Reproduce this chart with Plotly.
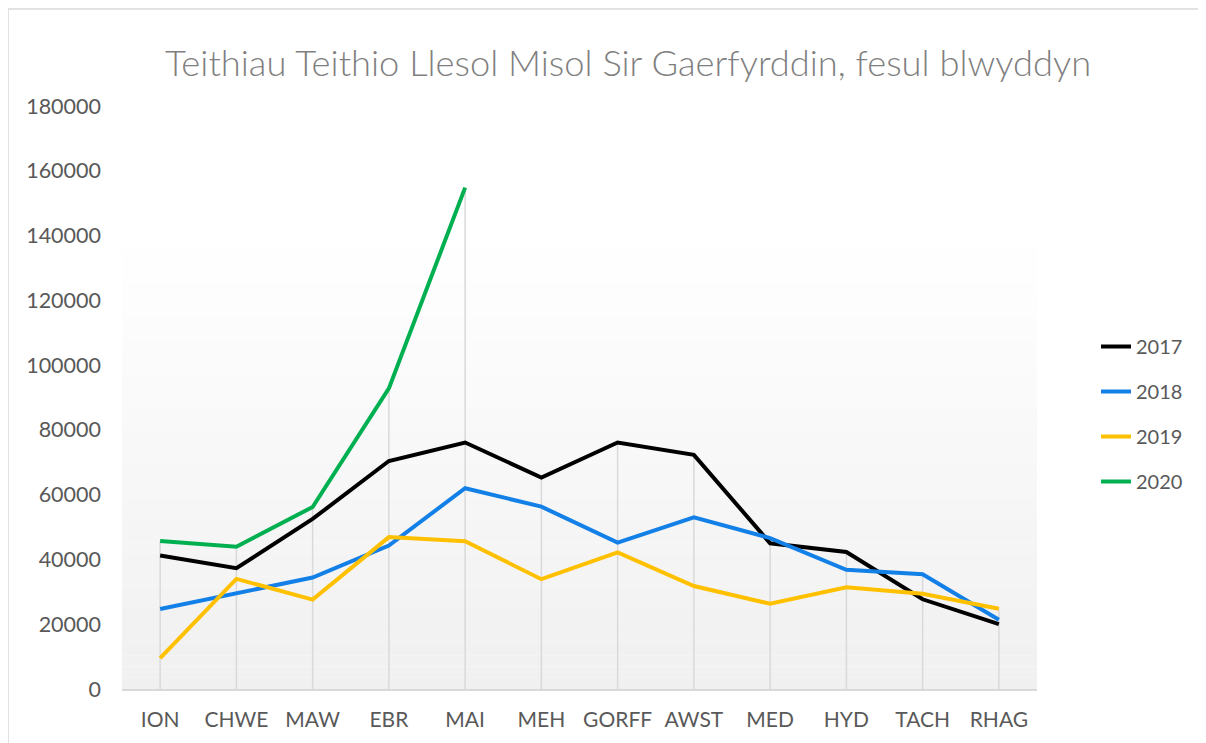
import plotly.graph_objects as go

months = ["ION", "CHWE", "MAW", "EBR", "MAI", "MEH", "GORFF", "AWST", "MED", "HYD", "TACH", "RHAG"]
y2017 = [41200, 37300, 52500, 70400, 76100, 65300, 76100, 72300, 45000, 42300, 27700, 20000]
y2018 = [24700, 29500, 34400, 44300, 62000, 56300, 45200, 53000, 46600, 36800, 35400, 21400]
y2019 = [9500, 34000, 27600, 46900, 45600, 33900, 42200, 31800, 26300, 31400, 29400, 24800]
y2020 = [45700, 43900, 56200, 92800, 154800]

series = [("2017", y2017, "#000000"), ("2018", y2018, "#1380e8"),
          ("2019", y2019, "#ffc000"), ("2020", y2020, "#00b050")]

# page body has an 8px margin: figure is sized/offset to compensate
W, H = 1198, 735
ML, MR, MT, MB = 114, 169, 98, 54
PW = W - ML - MR
PH = H - MT - MB

fig = go.Figure()

# drop lines from the highest point of each month down to the axis
dx, dy = [], []
for i, m in enumerate(months):
    vals = [s[1][i] for s in series if i < len(s[1])]
    dx += [m, m, None]
    dy += [0, max(vals), None]
fig.add_trace(go.Scatter(x=dx, y=dy, mode="lines", line=dict(color="#d9d9d9", width=1.5),
                         showlegend=False, hoverinfo="skip"))

for name, vals, col in series:
    fig.add_trace(go.Scatter(x=months[:len(vals)], y=vals, name=name, mode="lines",
                             legendgroup=name,
                             line=dict(color=col, width=4)))

# gradient background of the plot area (styling only)
shapes = []
top = (689 - 238) / 583
n = 40
for k in range(n):
    f0 = top * k / n
    f1 = top * (k + 1) / n
    t = (k + 0.5) / n  # 0 at bottom, 1 at top
    c = int(round(240 + (255 - 240) * t))
    shapes.append(dict(type="rect", xref="x domain", yref="y domain", x0=0, x1=1, y0=f0, y1=f1,
                       fillcolor=f"rgb({c},{c},{c})", line=dict(width=0), layer="below"))
# outer chart border
shapes.append(dict(type="rect", xref="paper", yref="paper",
                   x0=(0 - ML) / PW, x1=1.4, y0=-0.3, y1=(PH + MT - 1) / PH,
                   line=dict(color="#d9d9d9", width=1.5), fillcolor="rgba(0,0,0,0)", layer="below"))

fig.update_layout(
    width=W, height=H,
    margin=dict(l=ML, r=MR, t=MT, b=MB),
    paper_bgcolor="white", plot_bgcolor="white",
    font=dict(family="Lato", color="#595959", size=20),
    title=dict(text="Teithiau Teithio Llesol Misol Sir Gaerfyrddin, fesul blwyddyn",
               font=dict(family="Lato", size=36.3, color="#7f7f7f", weight=300),
               x=(628 - 8) / W, xanchor="center", xref="container",
               y=1 - (63 - 8) / H, yanchor="middle"),
    xaxis=dict(type="category", categoryorder="array", categoryarray=months,
               range=[-0.5, 11.5], showgrid=False, showline=True, linecolor="#d9d9d9",
               linewidth=1.5, ticks="", ticklabelstandoff=11, tickfont=dict(size=21)),
    yaxis=dict(range=[0, 180000], dtick=20000, showgrid=False, zeroline=False, showline=False,
               ticks="", ticklabelstandoff=20, tickfont=dict(size=21.5), tickformat="d"),
    legend=dict(x=(1096 - 122) / PW, xanchor="left", y=(689 - 414) / PH, yanchor="middle",
                font=dict(size=20, color="#595959"), tracegroupgap=16, bgcolor="rgba(0,0,0,0)"),
    shapes=shapes,
)

fig.write_html("out.html")
